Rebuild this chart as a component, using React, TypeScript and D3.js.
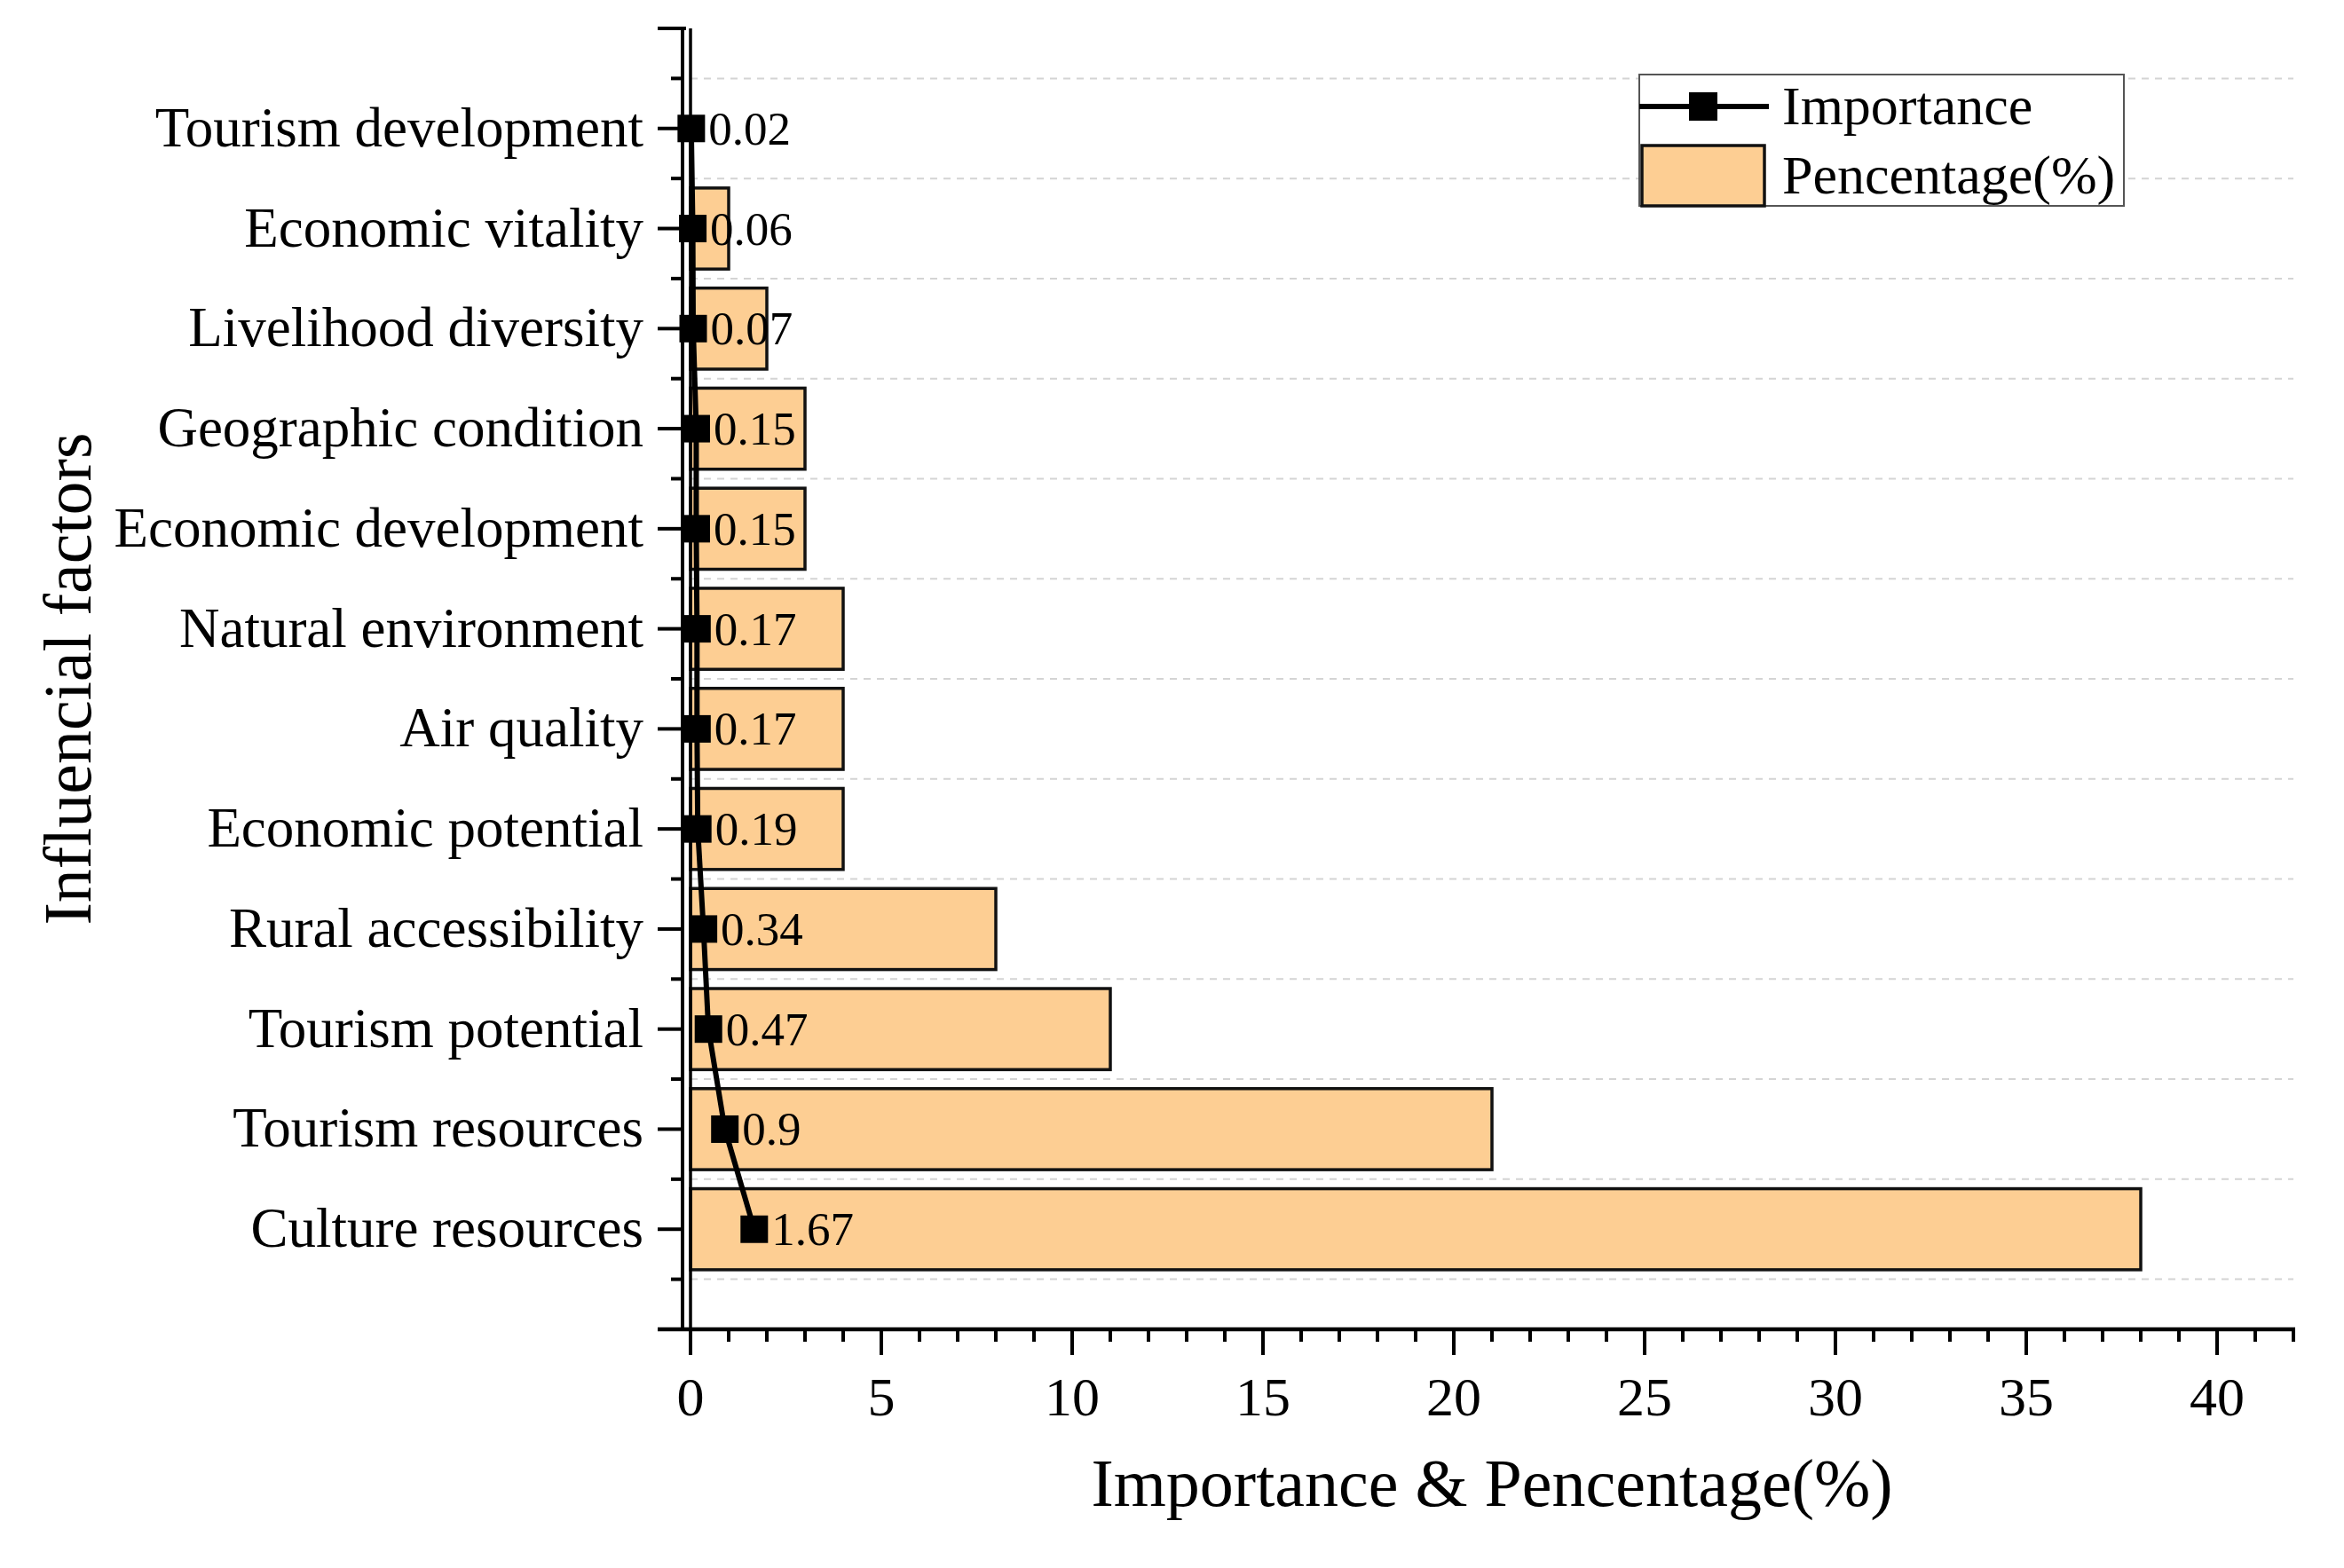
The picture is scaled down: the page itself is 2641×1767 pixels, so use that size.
import React from "react";
import * as d3 from "d3";

const categories = [
  "Tourism development",
  "Economic vitality",
  "Livelihood diversity",
  "Geographic condition",
  "Economic development",
  "Natural environment",
  "Air quality",
  "Economic potential",
  "Rural accessibility",
  "Tourism potential",
  "Tourism resources",
  "Culture resources",
];
const percentage = [0, 1, 2, 3, 3, 4, 4, 4, 8, 11, 21, 38];
const importance = [0.02, 0.06, 0.07, 0.15, 0.15, 0.17, 0.17, 0.19, 0.34, 0.47, 0.9, 1.67];
const xTickValues = [0, 5, 10, 15, 20, 25, 30, 35, 40];
const xTitle = "Importance & Pencentage(%)";
const yTitle = "Influencial factors";
const legendLabels = ["Importance", "Pencentage(%)"];

const W = 2641;
const H = 1767;
const FONT = "'Liberation Serif', 'Times New Roman', serif";
const BAR_FILL = "#FDCE93";

export default function App() {
  React.useEffect(() => {
    document.body.style.margin = "0";
  }, []);

  const x = d3.scaleLinear().domain([0, 42]).range([778, 2584]);
  const y = d3.scaleLinear().domain([-1, categories.length]).range([32, 1498]);
  const row = y(1) - y(0);
  const barH = row * 0.81;
  const yAxisX = x(0) - 9;
  const axisBottom = y(categories.length);
  const axisTop = y(-1);
  const xMinor = d3.range(0, 43, 1);
  const gridVals = d3.range(-0.5, categories.length, 1);
  const line = d3
    .line<number>()
    .x((d) => x(d))
    .y((_, i) => y(i));
  const ms = 31;

  return (
    <svg width={W} height={H} style={{ display: "block", background: "#fff" }} fontFamily={FONT}>
      {/* grid lines */}
      {gridVals.map((g) => (
        <line
          key={"g" + g}
          x1={x(0)}
          x2={x(42)}
          y1={y(g)}
          y2={y(g)}
          stroke="#d4d4d4"
          strokeWidth={2}
          strokeDasharray="8,7"
        />
      ))}
      {/* bars */}
      {percentage.map((p, i) =>
        p > 0 ? (
          <rect
            key={"b" + i}
            x={x(0)}
            y={y(i) - barH / 2}
            width={x(p) - x(0)}
            height={barH}
            fill={BAR_FILL}
            stroke="#111"
            strokeWidth={3.5}
          />
        ) : null
      )}
      {/* x=0 line */}
      <line x1={x(0)} x2={x(0)} y1={axisTop} y2={axisBottom} stroke="#000" strokeWidth={3.5} />
      {/* importance line */}
      <path d={line(importance) || ""} fill="none" stroke="#000" strokeWidth={6} />
      {importance.map((v, i) => (
        <rect key={"m" + i} x={x(v) - ms / 2} y={y(i) - ms / 2} width={ms} height={ms} fill="#000" />
      ))}
      {importance.map((v, i) => (
        <text key={"l" + i} x={x(v) + ms / 2 + 4} y={y(i) + 18} fontSize={53} fill="#000">
          {String(v)}
        </text>
      ))}
      {/* y axis */}
      <line x1={yAxisX} x2={yAxisX} y1={axisTop - 2} y2={axisBottom} stroke="#000" strokeWidth={4} />
      <line x1={yAxisX - 28} x2={yAxisX + 4} y1={axisTop} y2={axisTop} stroke="#000" strokeWidth={4} />
      {categories.map((c, i) => (
        <g key={"yt" + i}>
          <line x1={yAxisX - 28} x2={yAxisX} y1={y(i)} y2={y(i)} stroke="#000" strokeWidth={4} />
          <text x={725} y={y(i) + 20} fontSize={63} textAnchor="end" fill="#000">
            {c}
          </text>
        </g>
      ))}
      {gridVals.map((g) => (
        <line key={"ym" + g} x1={yAxisX - 13} x2={yAxisX} y1={y(g)} y2={y(g)} stroke="#000" strokeWidth={4} />
      ))}
      {/* x axis */}
      <line x1={741} x2={x(42) + 2} y1={axisBottom} y2={axisBottom} stroke="#000" strokeWidth={4.5} />
      {xMinor.map((v) => (
        <line
          key={"xm" + v}
          x1={x(v)}
          x2={x(v)}
          y1={axisBottom}
          y2={axisBottom + (v % 5 === 0 ? 29 : 14)}
          stroke="#000"
          strokeWidth={4}
        />
      ))}
      {xTickValues.map((v) => (
        <text key={"xt" + v} x={x(v)} y={1595} fontSize={62} textAnchor="middle" fill="#000">
          {v}
        </text>
      ))}
      {/* titles */}
      <text x={(x(0) + x(42)) / 2} y={1697} fontSize={76} textAnchor="middle" fill="#000">
        {xTitle}
      </text>
      <text
        transform={`translate(102, ${(axisTop + axisBottom) / 2}) rotate(-90)`}
        fontSize={76}
        textAnchor="middle"
        fill="#000"
      >
        {yTitle}
      </text>
      {/* legend */}
      <g>
        <rect x={1847} y={84} width={546} height={148} fill="#fff" stroke="#555" strokeWidth={2} />
        <line x1={1847} x2={1993} y1={120} y2={120} stroke="#000" strokeWidth={6} />
        <rect x={1919 - 16} y={120 - 16} width={32} height={32} fill="#000" />
        <rect x={1850} y={164} width={138} height={68} fill={BAR_FILL} stroke="#111" strokeWidth={3.5} />
        <text x={2008} y={140} fontSize={62} fill="#000">
          {legendLabels[0]}
        </text>
        <text x={2008} y={218} fontSize={62} fill="#000">
          {legendLabels[1]}
        </text>
      </g>
    </svg>
  );
}
